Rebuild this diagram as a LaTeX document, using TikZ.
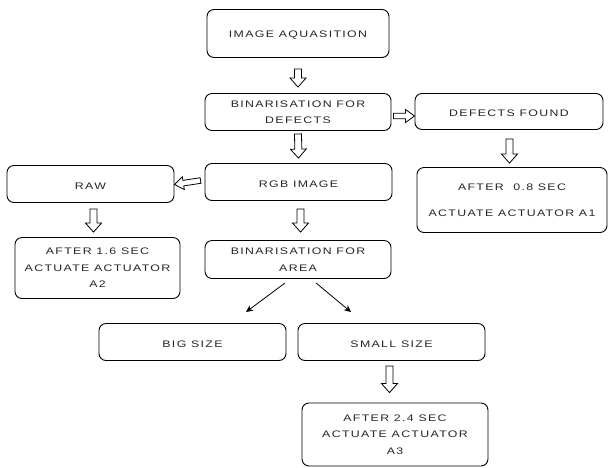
\documentclass[tikz,border=0pt]{standalone}
\usepackage{fontspec}
\setmainfont[LetterSpace=14,FakeStretch=1.3]{Liberation Sans}
\usetikzlibrary{calc,arrows.meta}

\tikzset{
  box/.style={draw=black, line width=0.9pt, rounded corners=7pt, align=center,
    text=black!85, font=\fontsize{9.5}{16.5}\selectfont, inner sep=0pt,
    execute at begin node={\rule{0pt}{10.5pt}}},
  hollow/.style 2 args={draw=black, line width=0.8pt, to path={
      let \p1=(\tikztostart), \p2=(\tikztotarget), \p3=($(\p2)!9pt!(\p1)$) in
      ($(\p1)!#2!90:(\p2)$) -- ($(\p3)!#2!-90:(\p1)$) -- ($(\p3)!#1!-90:(\p1)$)
      -- (\p2) -- ($(\p3)!#1!90:(\p1)$) -- ($(\p3)!#2!90:(\p1)$)
      -- ($(\p1)!#2!-90:(\p2)$) -- cycle}},
  down/.style={hollow={8pt}{3.5pt}},
  side/.style={hollow={6.5pt}{2.8pt}},
  split/.style={-{Stealth[length=7pt,width=6.5pt]}, line width=0.8pt}
}

\begin{document}
\begin{tikzpicture}[x=1pt,y=-1pt]
  \useasboundingbox (0,0) rectangle (608,467);

  \node[box, minimum width=182pt, minimum height=48pt] (acq) at (298,33.5) {IMAGE AQUASITION};
  \node[box, minimum width=186pt, minimum height=37pt] (bindef) at (298,112) {BINARISATION FOR\\DEFECTS};
  \node[box, minimum width=188pt, minimum height=36pt] (found) at (509,111.5) {DEFECTS FOUND};
  \node[box, minimum width=187pt, minimum height=37pt] (rgb) at (298.5,182) {RGB IMAGE};
  \node[box, minimum width=167pt, minimum height=37pt] (raw) at (90.5,184) {RAW};
  \node[box, minimum width=190pt, minimum height=65pt] (act1) at (512,200) {AFTER\ \ 0.8 SEC\\[9pt]ACTUATE ACTUATOR A1};
  \node[box, minimum width=165pt, minimum height=61pt] (act2) at (97.5,268) {AFTER 1.6 SEC\\ACTUATE ACTUATOR\\A2};
  \node[box, minimum width=186pt, minimum height=38pt] (binarea) at (298,259.5) {BINARISATION FOR\\AREA};
  \node[box, minimum width=187pt, minimum height=37pt] (big) at (192.5,342) {BIG SIZE};
  \node[box, minimum width=187pt, minimum height=37pt] (small) at (391.5,342) {SMALL SIZE};
  \node[box, minimum width=186pt, minimum height=63pt] (act3) at (395,434.5) {AFTER 2.4 SEC\\ACTUATE ACTUATOR\\A3};

  % hollow block arrows
  \draw[down] ([yshift=-11pt]acq.south) to ([yshift=6pt]bindef.north);
  \draw[down] ([yshift=-3pt]bindef.south) to ([yshift=5pt]rgb.north);
  \draw[down] ([xshift=0.5pt,yshift=-9pt]found.south) to ([xshift=-2.5pt,yshift=4pt]act1.north);
  \draw[down] ([xshift=2pt,yshift=-8pt]rgb.south) to ([xshift=2.5pt,yshift=8pt]binarea.north);
  \draw[down] ([xshift=3pt,yshift=-6pt]raw.south) to ([xshift=-4pt,yshift=5pt]act2.north);
  \draw[down] ([xshift=-2pt,yshift=-5pt]small.south) to ([xshift=-5.5pt,yshift=10pt]act3.north);
  \draw[side] ([xshift=2pt,yshift=-4pt]bindef.east) to ([yshift=-4.5pt]found.west);
  \draw[side] ([xshift=-4pt,yshift=1.5pt]rgb.west) to ([yshift=-0.5pt]raw.east);

  % split by area
  \draw[split] ([xshift=-13pt,yshift=-4pt]binarea.south) -- ([xshift=53.5pt,yshift=11pt]big.north);
  \draw[split] ([xshift=18pt,yshift=-4pt]binarea.south) -- ([xshift=-40.5pt,yshift=11pt]small.north);
\end{tikzpicture}
\end{document}
